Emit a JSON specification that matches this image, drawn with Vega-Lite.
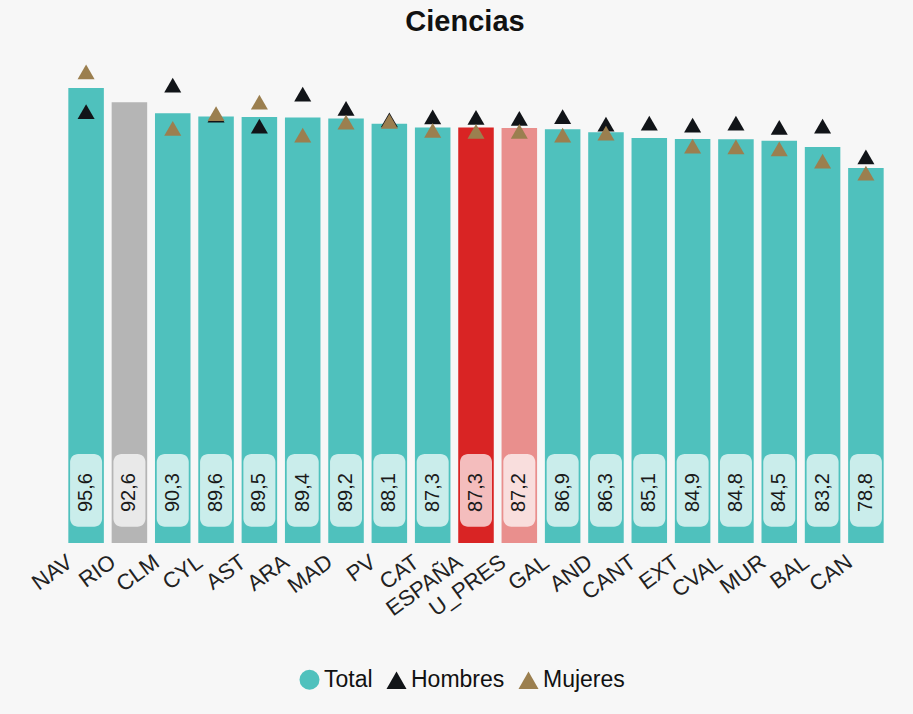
{
  "$schema": "https://vega.github.io/schema/vega-lite/v6.json",
  "autosize": {"type": "none"},
  "width": 824,
  "height": 476,
  "padding": {"left": 64, "top": 67, "right": 25, "bottom": 171},
  "background": "#f7f7f7",
  "config": {
    "font": "Liberation Sans",
    "view": {"stroke": null},
    "locale": {
      "number": {"decimal": ",", "thousands": ".", "grouping": [3], "currency": ["", " €"]}
    }
  },
  "title": {
    "text": "Ciencias",
    "fontSize": 29,
    "fontWeight": "bold",
    "color": "#111111",
    "anchor": "middle",
    "dx": -11,
    "offset": 27
  },
  "datasets": {
    "main": [
      {"region": "NAV", "total": 95.6, "color": "#4fc1bd"},
      {"region": "RIO", "total": 92.6, "color": "#b5b5b5"},
      {"region": "CLM", "total": 90.3, "color": "#4fc1bd"},
      {"region": "CYL", "total": 89.6, "color": "#4fc1bd"},
      {"region": "AST", "total": 89.5, "color": "#4fc1bd"},
      {"region": "ARA", "total": 89.4, "color": "#4fc1bd"},
      {"region": "MAD", "total": 89.2, "color": "#4fc1bd"},
      {"region": "PV", "total": 88.1, "color": "#4fc1bd"},
      {"region": "CAT", "total": 87.3, "color": "#4fc1bd"},
      {"region": "ESPAÑA", "total": 87.3, "color": "#d92424"},
      {"region": "U_PRES", "total": 87.2, "color": "#e98f8d"},
      {"region": "GAL", "total": 86.9, "color": "#4fc1bd"},
      {"region": "AND", "total": 86.3, "color": "#4fc1bd"},
      {"region": "CANT", "total": 85.1, "color": "#4fc1bd"},
      {"region": "EXT", "total": 84.9, "color": "#4fc1bd"},
      {"region": "CVAL", "total": 84.8, "color": "#4fc1bd"},
      {"region": "MUR", "total": 84.5, "color": "#4fc1bd"},
      {"region": "BAL", "total": 83.2, "color": "#4fc1bd"},
      {"region": "CAN", "total": 78.8, "color": "#4fc1bd"}
    ],
    "sexo": [
      {"region": "NAV", "serie": "Hombres", "valor": 90.6},
      {"region": "CLM", "serie": "Hombres", "valor": 96.2},
      {"region": "CYL", "serie": "Hombres", "valor": 89.9},
      {"region": "AST", "serie": "Hombres", "valor": 87.6},
      {"region": "ARA", "serie": "Hombres", "valor": 94.3},
      {"region": "MAD", "serie": "Hombres", "valor": 91.3},
      {"region": "PV", "serie": "Hombres", "valor": 88.9},
      {"region": "CAT", "serie": "Hombres", "valor": 89.5},
      {"region": "ESPAÑA", "serie": "Hombres", "valor": 89.4},
      {"region": "U_PRES", "serie": "Hombres", "valor": 89.2},
      {"region": "GAL", "serie": "Hombres", "valor": 89.6},
      {"region": "AND", "serie": "Hombres", "valor": 88.0},
      {"region": "CANT", "serie": "Hombres", "valor": 88.2},
      {"region": "EXT", "serie": "Hombres", "valor": 87.8},
      {"region": "CVAL", "serie": "Hombres", "valor": 88.2},
      {"region": "MUR", "serie": "Hombres", "valor": 87.3},
      {"region": "BAL", "serie": "Hombres", "valor": 87.6},
      {"region": "CAN", "serie": "Hombres", "valor": 81.1},
      {"region": "NAV", "serie": "Mujeres", "valor": 99.0},
      {"region": "CLM", "serie": "Mujeres", "valor": 87.1},
      {"region": "CYL", "serie": "Mujeres", "valor": 90.2},
      {"region": "AST", "serie": "Mujeres", "valor": 92.6},
      {"region": "ARA", "serie": "Mujeres", "valor": 85.7},
      {"region": "MAD", "serie": "Mujeres", "valor": 88.4},
      {"region": "PV", "serie": "Mujeres", "valor": 88.6},
      {"region": "CAT", "serie": "Mujeres", "valor": 86.7},
      {"region": "ESPAÑA", "serie": "Mujeres", "valor": 86.5},
      {"region": "U_PRES", "serie": "Mujeres", "valor": 86.5},
      {"region": "GAL", "serie": "Mujeres", "valor": 85.7},
      {"region": "AND", "serie": "Mujeres", "valor": 86.1},
      {"region": "EXT", "serie": "Mujeres", "valor": 83.4},
      {"region": "CVAL", "serie": "Mujeres", "valor": 83.2},
      {"region": "MUR", "serie": "Mujeres", "valor": 82.8},
      {"region": "BAL", "serie": "Mujeres", "valor": 80.2},
      {"region": "CAN", "serie": "Mujeres", "valor": 77.7}
    ]
  },
  "encoding": {
    "x": {
      "field": "region",
      "type": "nominal",
      "sort": null,
      "scale": {"paddingInner": 0.18, "paddingOuter": 0.1},
      "axis": {
        "title": null,
        "domain": false,
        "ticks": false,
        "labelAngle": -36,
        "labelFontSize": 22,
        "labelColor": "#222222",
        "labelPadding": 8,
        "labelOffset": -22
      }
    }
  },
  "layer": [
    {
      "data": {"name": "main"},
      "mark": {"type": "bar"},
      "encoding": {
        "y": {
          "field": "total",
          "type": "quantitative",
          "scale": {"domain": [0, 100], "nice": false},
          "axis": null
        },
        "fill": {"field": "color", "type": "nominal", "scale": null}
      }
    },
    {
      "data": {"name": "main"},
      "mark": {"type": "bar", "width": 32, "cornerRadius": 8, "fill": "white", "opacity": 0.7},
      "encoding": {
        "y": {"datum": 3.4},
        "y2": {"datum": 18.7}
      }
    },
    {
      "data": {"name": "main"},
      "mark": {"type": "text", "angle": 270, "fontSize": 20, "color": "#1a1a1a", "align": "center", "baseline": "middle"},
      "encoding": {
        "y": {"datum": 10.6},
        "text": {"field": "total", "type": "quantitative", "format": ".1f", "formatType": "number"}
      }
    },
    {
      "data": {"name": "sexo"},
      "mark": {"type": "point", "filled": true, "opacity": 1, "size": 290},
      "encoding": {
        "y": {"field": "valor", "type": "quantitative"},
        "color": {
          "field": "serie",
          "type": "nominal",
          "scale": {"domain": ["Total", "Hombres", "Mujeres"], "range": ["#4fc1bd", "#111418", "#9b7f4f"]},
          "legend": {
            "title": null,
            "orient": "none",
            "direction": "horizontal",
            "legendX": 234,
            "legendY": 601,
            "labelFontSize": 23,
            "labelColor": "#111111",
            "symbolSize": 400,
            "labelOffset": 3,
            "columnPadding": 10,
            "symbolOpacity": 1
          }
        },
        "shape": {
          "field": "serie",
          "type": "nominal",
          "scale": {"domain": ["Total", "Hombres", "Mujeres"], "range": ["circle", "triangle-up", "triangle-up"]}
        }
      }
    }
  ]
}
